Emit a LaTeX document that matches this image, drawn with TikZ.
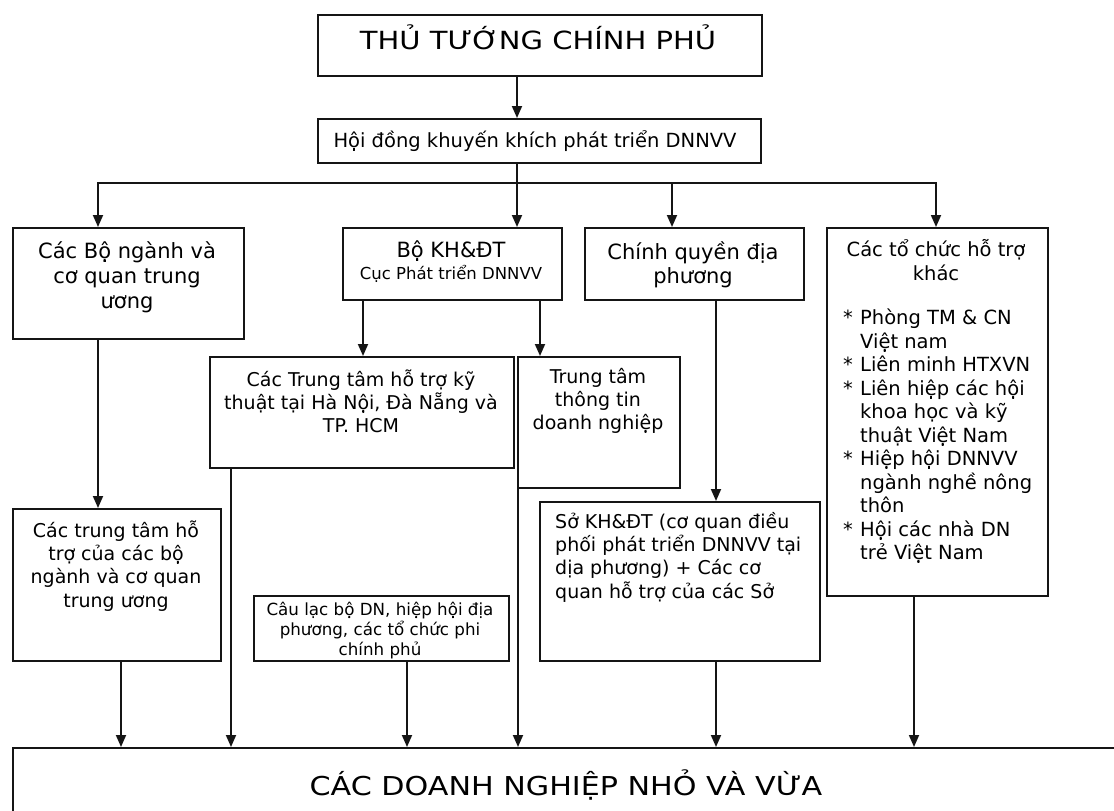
\documentclass[tikz,border=0pt]{standalone}
\usepackage{fontspec}
\setmainfont{DejaVu Sans}
\newfontfamily\widefont[FakeStretch=1.16]{DejaVu Sans}
\usetikzlibrary{arrows.meta,calc}
\definecolor{lc}{HTML}{151515}
\newcommand\bulitem{\makebox[17pt][l]{*}}
\newcommand\contline{\hspace*{17pt}}
\begin{document}
\begin{tikzpicture}[x=1pt,y=-1pt,
  box/.style={draw=lc, line width=1.8pt, inner sep=0pt, anchor=north west},
  conn/.style={draw=lc, line width=1.8pt, line join=miter},
  arr/.style={conn, -{Triangle[length=12pt,width=10pt]}},
  txt/.style={inner sep=0pt, align=center, text=black},
  ltxt/.style={inner sep=0pt, align=left, text=black, anchor=north west}]
\fill[white] (0,0) rectangle (1114,811);
\clip (0,0) rectangle (1114,811);

% boxes
\node[box, minimum width=444pt, minimum height=61pt] (top) at (317,14) {};
\node[box, minimum width=443pt, minimum height=44pt] (hd) at (317,118) {};
\node[box, minimum width=231pt, minimum height=111pt] (A) at (12,227) {};
\node[box, minimum width=219pt, minimum height=72pt] (B) at (342,227) {};
\node[box, minimum width=219pt, minimum height=72pt] (C) at (584,227) {};
\node[box, minimum width=221pt, minimum height=368pt] (D) at (826,227) {};
\node[box, minimum width=304pt, minimum height=111pt] (E) at (209,356) {};
\node[box, minimum width=162pt, minimum height=131pt] (F) at (517,356) {};
\node[box, minimum width=208pt, minimum height=152pt] (G) at (12,508) {};
\node[box, minimum width=255pt, minimum height=65pt] (H) at (253,595) {};
\node[box, minimum width=280pt, minimum height=159pt] (S) at (539,501) {};
\node[box, minimum width=1130pt, minimum height=100pt] (bot) at (12,747) {};

% texts
\node[txt, anchor=base, font=\widefont\fontsize{25}{30}\selectfont] (toptext) at (538,49) {THỦ TƯỚNG CHÍNH PHỦ};
\node[txt, anchor=base, font=\fontsize{19.5}{23}\selectfont] (hdtext) at (535,147) {Hội đồng khuyến khích phát triển DNNVV};
\node[txt, font=\fontsize{21}{25}\selectfont] (Atext) at (127,277) {Các Bộ ngành và\\cơ quan trung\\ương};
\node[txt, anchor=base, font=\fontsize{21}{25}\selectfont] (Btext1) at (451,257) {Bộ KH\&ĐT};
\node[txt, anchor=base, font=\fontsize{16.5}{20}\selectfont] (Btext2) at (451,279) {Cục Phát triển DNNVV};
\node[txt, font=\fontsize{21}{24}\selectfont] (Ctext) at (693,265) {Chính quyền địa\\phương};
\node[txt, font=\fontsize{19.5}{23.3}\selectfont] (Dtext) at (936,260) {Các tổ chức hỗ trợ\\khác};
\node[ltxt, font=\fontsize{19.5}{23.5}\selectfont] (Dlist) at (843,309) {\bulitem Phòng TM \& CN\\\contline Việt nam\\\bulitem Liên minh HTXVN\\\bulitem Liên hiệp các hội\\\contline khoa học và kỹ\\\contline thuật Việt Nam\\\bulitem Hiệp hội DNNVV\\\contline ngành nghề nông\\\contline thôn\\\bulitem Hội các nhà DN\\\contline trẻ Việt Nam};
\node[txt, font=\fontsize{19}{23}\selectfont] (Etext) at (361,401) {Các Trung tâm hỗ trợ kỹ\\thuật tại Hà Nội, Đà Nẵng và\\TP. HCM};
\node[txt, font=\fontsize{19}{23}\selectfont] (Ftext) at (598,401) {Trung tâm\\thông tin\\doanh nghiệp};
\node[txt, font=\fontsize{19}{23.3}\selectfont] (Gtext) at (116,566) {Các trung tâm hỗ\\trợ của các bộ\\ngành và cơ quan\\trung ương};
\node[txt, font=\fontsize{16.7}{20}\selectfont] (Htext) at (380,631) {Câu lạc bộ DN, hiệp hội địa\\phương, các tổ chức phi\\chính phủ};
\node[ltxt, font=\fontsize{19}{23.3}\selectfont] (Stext) at (555,512) {Sở KH\&ĐT (cơ quan điều\\phối phát triển DNNVV tại\\dịa phương) + Các cơ\\quan hỗ trợ của các Sở};
\node[txt, anchor=base, font=\widefont\fontsize{26}{31}\selectfont] (bottext) at (566,795) {CÁC DOANH NGHIỆP NHỎ VÀ VỪA};

% bus
\coordinate (busM) at (517,183);
\coordinate (busL) at (98,183);
\coordinate (busR) at (936,183);
\coordinate (busC) at (672,183);
\draw[arr] (top.south -| busM) -- (hd.north -| busM);
\draw[conn] (hd.south -| busM) -- (busM);
\draw[arr] (busM) -- (busL) -- (A.north -| busL);
\draw[arr] (busM) -- (busR) -- (D.north -| busR);
\draw[arr] (busM) -- (B.north -| busM);
\draw[arr] (busC) -- (C.north -| busC);

% connectors
\coordinate (b1) at ($(B.south west)+(21,0)$);
\coordinate (b2) at ($(B.south west)+(198,0)$);
\coordinate (a1) at ($(A.south west)+(86,0)$);
\coordinate (c1) at ($(C.south west)+(132,0)$);
\coordinate (g1) at ($(G.south west)+(109,0)$);
\coordinate (e1) at ($(E.south west)+(22,0)$);
\coordinate (h1) at ($(H.south west)+(154,0)$);
\coordinate (f1) at ($(F.south west)+(1,-9)$);
\coordinate (s1) at ($(S.south west)+(177,0)$);
\coordinate (d1) at ($(D.south west)+(88,0)$);
\draw[arr] (b1) -- (b1 |- E.north);
\draw[arr] (b2) -- (b2 |- F.north);
\draw[arr] (a1) -- (a1 |- G.north);
\draw[arr] (c1) -- (c1 |- S.north);
\draw[arr] (g1) -- (g1 |- bot.north);
\draw[arr] (e1) -- (e1 |- bot.north);
\draw[arr] (h1) -- (h1 |- bot.north);
\draw[arr] (f1) -- (f1 |- bot.north);
\draw[arr] (s1) -- (s1 |- bot.north);
\draw[arr] (d1) -- (d1 |- bot.north);
\end{tikzpicture}
\end{document}
